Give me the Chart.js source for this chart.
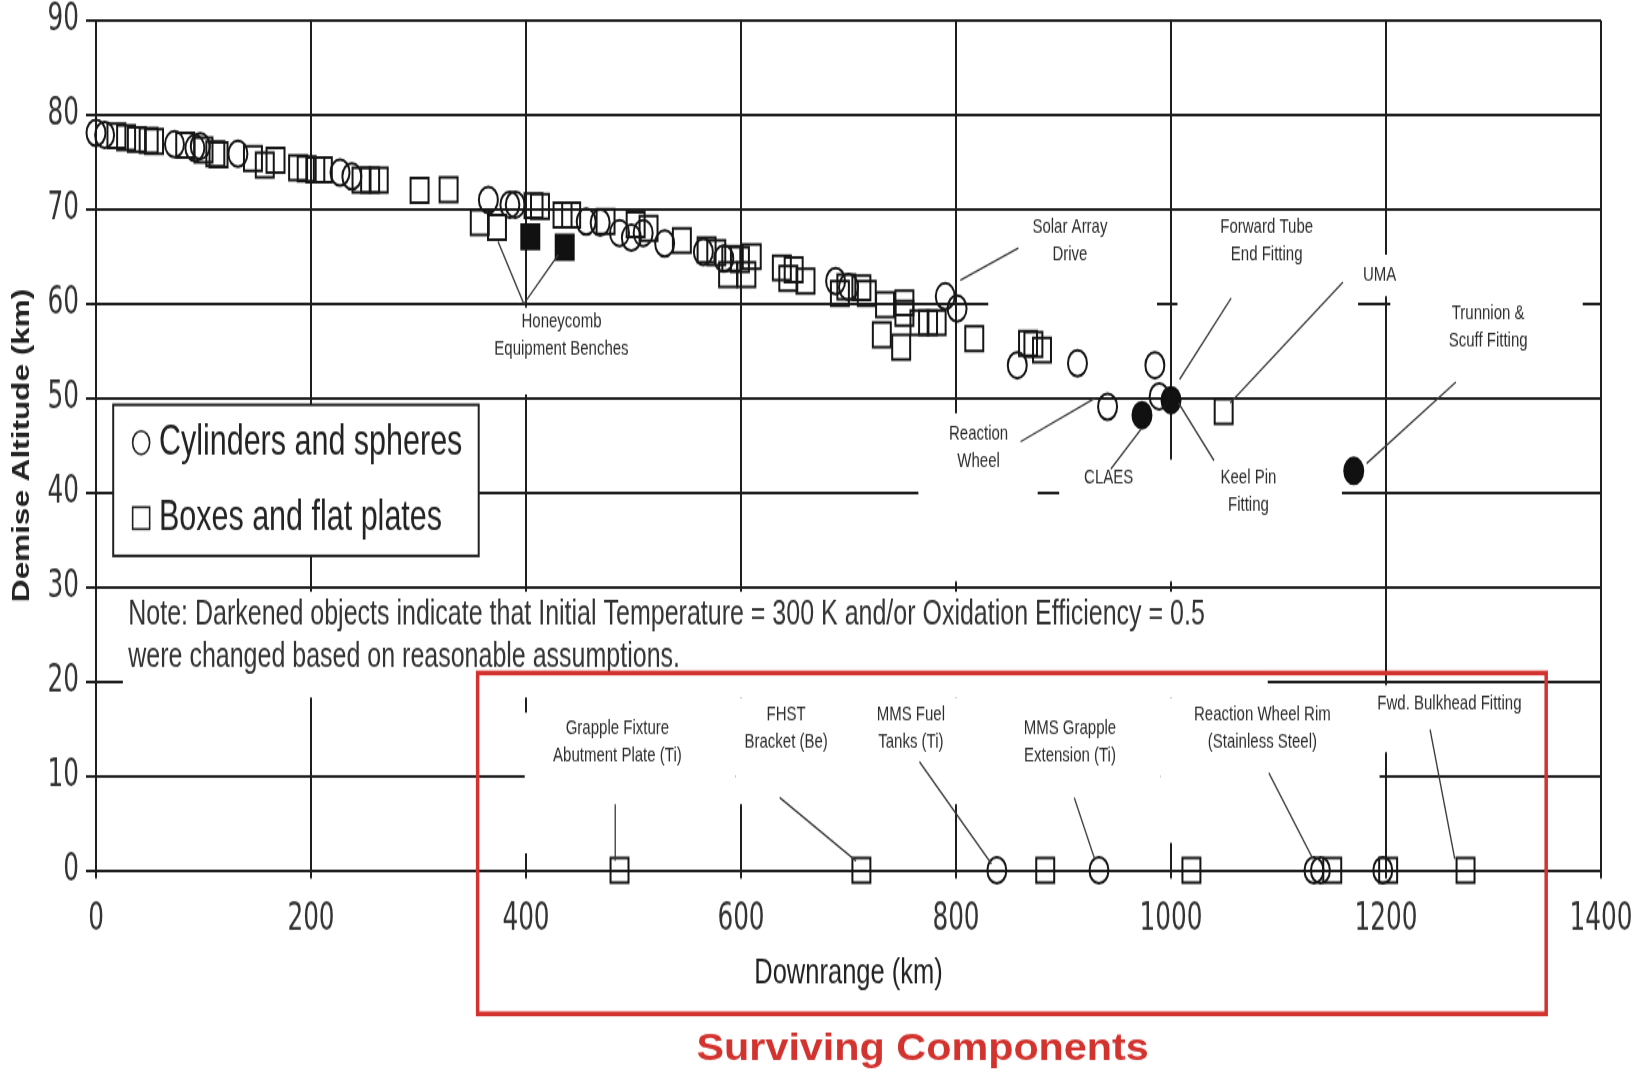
<!DOCTYPE html>
<html>
<head>
<meta charset="utf-8">
<script src="https://cdn.jsdelivr.net/npm/chart.js@4.4.1/dist/chart.umd.min.js"></script>
<style>
  html, body { margin: 0; padding: 0; background: #fff; overflow: hidden; }
  #chart { display: block; }
</style>
</head>
<body>
<!-- the source figure is stretched vertically, so the canvas is drawn short and shown tall -->
<canvas id="chart" width="1641" height="785" style="width:1641px;height:1075px"></canvas>
<script>
// downrange (km) / demise altitude (km)
const cylX = [0, 8, 73, 92, 97, 132, 227, 238, 365, 385, 390, 456, 469, 487, 498, 509, 529, 565, 584,
  688, 700, 790, 801, 857, 913, 941, 985, 989];
const cylY = [78.1, 77.9, 76.9, 76.5, 76.7, 75.9, 73.9, 73.5, 71.0, 70.5, 70.5, 68.7, 68.6, 67.5, 67.0, 67.5, 66.4, 65.5, 64.8,
  62.4, 61.8, 60.8, 59.5, 53.5, 53.7, 49.1, 53.5, 50.2];

const boxX = [19, 28, 38, 49, 54, 83, 100, 111, 114, 146, 157, 167, 188, 196, 204, 211, 247, 255, 263, 301, 328,
  357, 373, 407, 413, 434, 442, 474, 502, 514, 545, 568, 577, 588, 591, 599, 605, 610, 638, 644, 649, 660,
  692, 698, 712, 717, 731, 734, 749, 752, 752, 766, 774, 782, 817, 867, 872, 880, 1049];
const boxY = [77.8, 77.6, 77.4, 77.3, 77.2, 76.8, 76.3, 75.9, 75.8, 75.4, 74.7, 75.2, 74.4, 74.3, 74.2, 74.2, 73.1, 73.1, 73.1, 72.0, 72.1,
  68.6, 68.1, 70.4, 70.3, 69.4, 69.4, 68.7, 68.4, 68.0, 66.7, 65.7, 65.4, 63.1, 64.8, 64.7, 63.1, 65.0, 63.8, 62.7, 63.6, 62.4,
  61.1, 61.8, 61.7, 61.1, 56.7, 59.9, 55.4, 60.1, 59.0, 58.0, 58.0, 58.0, 56.3, 55.8, 55.7, 55.1, 48.6];

// darkened objects (changed initial temperature / oxidation efficiency)
const darkBoxX = [404, 436];
const darkBoxY = [67.1, 66.0];
const darkCylX = [973, 1000, 1170];
const darkCylY = [48.2, 49.8, 42.3];

// surviving components, all at 0 km
const survCylX = [838, 933, 1133, 1139, 1197];
const survBoxX = [487, 712, 883, 1019, 1150, 1202, 1274];

const xTicks = [0, 200, 400, 600, 800, 1000, 1200, 1400];
const yTicks = [0, 10, 20, 30, 40, 50, 60, 70, 80, 90];

const pts = (xs, ys) => xs.map((x, i) => ({ x, y: ys[i] }));
const zeros = xs => xs.map(x => ({ x, y: 0 }));

// white text boxes that break the grid lines: [x1, x2, yTop, yBottom]
const masks = [
  [362, 505, 59.6, 50.4],
  [830, 987, 69, 51.5], [1006, 1174, 69, 51.5], [1175, 1262, 65.2, 60.8], [1204, 1383, 61.5, 51],
  [765, 876, 48.4, 30.6], [896, 1159, 43.5, 30.6],
  [25, 1090, 29.5, 18.3],
  [398.8, 595, 16.7, 1.8], [595, 990, 18.3, 7.0], [990, 1194, 18.3, 2.9], [1194, 1345, 19.6, 12.5]
];

// callout text: centre x, first line y, lines
const callouts = [
  { x: 433, y: 58.1, t: ['Honeycomb', 'Equipment Benches'] },
  { x: 906, y: 68.1, t: ['Solar Array', 'Drive'] },
  { x: 1089, y: 68.1, t: ['Forward Tube', 'End Fitting'] },
  { x: 1194, y: 63.1, t: ['UMA'] },
  { x: 1295, y: 59.0, t: ['Trunnion &', 'Scuff Fitting'] },
  { x: 821, y: 46.2, t: ['Reaction', 'Wheel'] },
  { x: 942, y: 41.6, t: ['CLAES'] },
  { x: 1072, y: 41.6, t: ['Keel Pin', 'Fitting'] },
  { x: 485, y: 15.0, t: ['Grapple Fixture', 'Abutment Plate (Ti)'] },
  { x: 642, y: 16.5, t: ['FHST', 'Bracket (Be)'] },
  { x: 758, y: 16.5, t: ['MMS Fuel', 'Tanks (Ti)'] },
  { x: 906, y: 15.0, t: ['MMS Grapple', 'Extension (Ti)'] },
  { x: 1085, y: 16.5, t: ['Reaction Wheel Rim', '(Stainless Steel)'] },
  { x: 1259, y: 17.6, t: ['Fwd. Bulkhead Fitting'] }
];

// leader lines [x1, y1, x2, y2]
const leaders = [
  [398, 60, 374, 66.6], [398, 60, 430, 65.2],
  [804, 62.5, 858, 65.9], [1008, 52, 1056, 60.6], [1055, 49.5, 1160, 62.3], [1182, 43.1, 1265, 51.7],
  [860, 45.4, 929, 50.0], [944, 42.5, 972, 46.7], [1040, 43.4, 1007, 49.5],
  [483, 7.0, 483, 1.0], [636, 7.7, 707, 1.0], [766, 11.5, 833, 0.7], [910, 7.7, 929, 1.2],
  [1091, 10.3, 1132, 1.2], [1241, 14.9, 1264, 1.2]
];

const SANS = "'Liberation Sans', Arial, sans-serif";
const NARROW = "'Liberation Sans Narrow', 'Arial Narrow', 'DejaVu Sans Condensed', 'Liberation Sans', Arial, sans-serif";

const annotate = {
  id: 'annotate',
  beforeDatasetsDraw(chart) {
    const { ctx, scales: { x, y } } = chart;
    ctx.save();
    ctx.fillStyle = '#fff';
    masks.forEach(m => {
      const l = x.getPixelForValue(m[0]), r = x.getPixelForValue(m[1]);
      const t = y.getPixelForValue(m[2]), b = y.getPixelForValue(m[3]);
      ctx.fillRect(l, t, r - l, b - t);
    });
    ctx.restore();
  },
  afterDatasetsDraw(chart) {
    const { ctx, scales: { x, y } } = chart;
    ctx.save();
    // leader lines
    ctx.strokeStyle = '#3a3a3a';
    ctx.lineWidth = 1.3;
    leaders.forEach(d => {
      ctx.beginPath();
      ctx.moveTo(x.getPixelForValue(d[0]), y.getPixelForValue(d[1]));
      ctx.lineTo(x.getPixelForValue(d[2]), y.getPixelForValue(d[3]));
      ctx.stroke();
    });
    // callout text
    ctx.fillStyle = '#2e2e2e';
    ctx.font = '15px ' + SANS;
    ctx.textAlign = 'center';
    ctx.textBaseline = 'middle';
    callouts.forEach(c => {
      const cx = x.getPixelForValue(c.x), cy = y.getPixelForValue(c.y);
      c.t.forEach((s, i) => ctx.fillText(s, cx, cy + i * 20));
    });

    // legend box
    const lx = x.getPixelForValue(16), rx = x.getPixelForValue(356);
    const ty = y.getPixelForValue(49.3), by = y.getPixelForValue(33.3);
    ctx.fillStyle = '#fff';
    ctx.fillRect(lx, ty, rx - lx, by - ty);
    ctx.strokeStyle = '#222';
    ctx.lineWidth = 2;
    ctx.strokeRect(lx, ty, rx - lx, by - ty);
    const mx = x.getPixelForValue(42), tx = x.getPixelForValue(58.5);
    const y1 = y.getPixelForValue(45.3), y2 = y.getPixelForValue(37.3);
    ctx.lineWidth = 1.6;
    ctx.beginPath(); ctx.arc(mx, y1, 8.5, 0, Math.PI * 2); ctx.stroke();
    ctx.strokeRect(mx - 8.5, y2 - 8, 17, 16);
    ctx.fillStyle = '#222';
    ctx.font = '30.5px ' + SANS;
    ctx.textAlign = 'left';
    ctx.fillText('Cylinders and spheres', tx, y1);
    ctx.fillText('Boxes and flat plates', tx, y2);

    // note
    ctx.fillStyle = '#333';
    ctx.font = '25px ' + SANS;
    const nx = x.getPixelForValue(30);
    ctx.fillText('Note: Darkened objects indicate that Initial Temperature = 300 K and/or Oxidation Efficiency = 0.5',
      nx, y.getPixelForValue(27.0), 1078);
    ctx.fillText('were changed based on reasonable assumptions.', nx, y.getPixelForValue(22.6));
    ctx.restore();
  },
  afterDraw(chart) {
    const { ctx, scales: { x, y } } = chart;
    ctx.save();
    const l = x.getPixelForValue(355), r = x.getPixelForValue(1349);
    const t = y.getPixelForValue(20.9), b = y.getPixelForValue(-15.2);
    ctx.strokeStyle = '#d2332e';
    ctx.lineWidth = 3.5;
    ctx.strokeRect(l, t, r - l, b - t);
    ctx.translate(x.getPixelForValue(769), y.getPixelForValue(-18.9));
    ctx.scale(1.45, 1);
    ctx.fillStyle = '#d2332e';
    ctx.font = 'bold 28.5px ' + SANS;
    ctx.textAlign = 'center';
    ctx.textBaseline = 'middle';
    ctx.fillText('Surviving Components', 0, 0);
    ctx.restore();
  }
};

const openStyle = { borderColor: '#161616', backgroundColor: 'rgba(0,0,0,0)', pointBorderWidth: 2 };
const darkStyle = { borderColor: '#111', backgroundColor: '#111', pointBorderWidth: 2 };

new Chart(document.getElementById('chart'), {
  type: 'scatter',
  data: {
    datasets: [
      { label: 'Cylinders and spheres', data: pts(cylX, cylY).concat(zeros(survCylX)),
        pointStyle: 'circle', pointRadius: 9.5, ...openStyle },
      { label: 'Boxes and flat plates', data: pts(boxX, boxY).concat(zeros(survBoxX)),
        pointStyle: 'rect', pointRadius: 12.7, ...openStyle },
      { label: 'Darkened boxes', data: pts(darkBoxX, darkBoxY),
        pointStyle: 'rect', pointRadius: 12.7, ...darkStyle },
      { label: 'Darkened cylinders', data: pts(darkCylX, darkCylY),
        pointStyle: 'circle', pointRadius: 9.5, ...darkStyle }
    ]
  },
  options: {
    responsive: false,
    animation: false,
    events: [],
    clip: false,
    layout: { padding: { left: 0, right: 40, top: 15, bottom: 59 } },
    plugins: { legend: { display: false }, tooltip: { enabled: false } },
    scales: {
      x: {
        type: 'linear', min: 0, max: 1400,
        afterBuildTicks: s => { s.ticks = xTicks.map(v => ({ value: v })); },
        afterFit: s => { s.height = 90.5; s.paddingLeft = 0; s.paddingRight = 20; },
        grid: { color: '#1e1e1e', lineWidth: 2, tickLength: 6 },
        border: { color: '#1e1e1e', width: 2 },
        ticks: { color: '#333', padding: 17, maxRotation: 0, callback: v => String(v),
          font: { family: NARROW, size: 27.5, lineHeight: 1 } },
        title: { display: true, text: 'Downrange (km)', color: '#222', padding: 0,
          font: { family: SANS, size: 25.5, lineHeight: 1.2 } }
      },
      y: {
        type: 'linear', min: 0, max: 90,
        afterBuildTicks: s => { s.ticks = yTicks.map(v => ({ value: v })); },
        afterFit: s => { s.width = 96; s.paddingTop = 10; s.paddingBottom = 10; },
        grid: { color: '#1e1e1e', lineWidth: 2, tickLength: 10 },
        border: { color: '#1e1e1e', width: 2 },
        ticks: { color: '#333', padding: 7, callback: v => String(v),
          font: { family: NARROW, size: 27.5, lineHeight: 1 } },
        title: { display: true, text: 'Demise Altitude (km)', color: '#222', padding: { top: 9, bottom: 0 },
          font: { family: SANS, size: 23, weight: 'bold', lineHeight: 1.2 } }
      }
    }
  },
  plugins: [annotate]
});
</script>
</body>
</html>
